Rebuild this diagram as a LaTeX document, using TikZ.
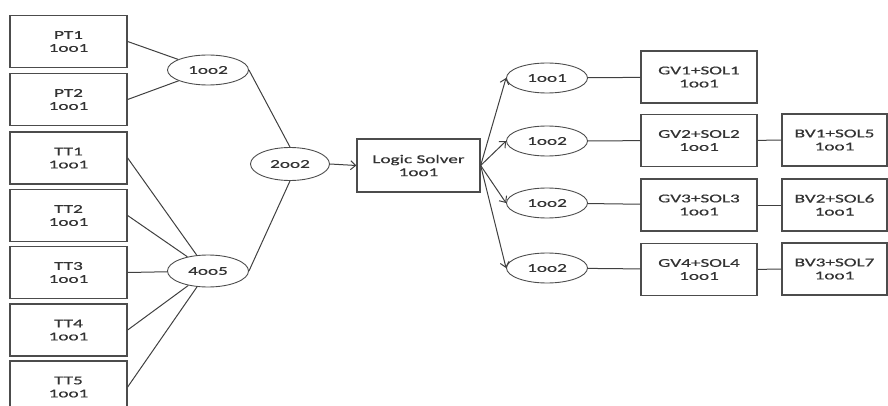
\documentclass[tikz,border=0pt]{standalone}
\usepackage{fontspec}
\setmainfont[FakeStretch=1.6,FakeBold=0.6]{Carlito}
\usetikzlibrary{shapes.geometric,arrows.meta}
\tikzset{>={Straight Barb[length=5pt,width=9pt]}}

\begin{document}
\begin{tikzpicture}[x=1pt,y=-1pt,
    box/.style={draw=black!70,line width=1.3pt,minimum width=117pt,minimum height=52pt,
      align=center,inner sep=0pt},
    vote/.style={ellipse,draw=black!70,line width=0.9pt,minimum width=81pt,minimum height=30pt,
      inner sep=0pt},
    link/.style={draw=black!75,line width=1pt},
    font=\fontsize{12}{13}\selectfont,text=black!80]
  \useasboundingbox (0,0) rectangle (888,406);
  % sensors
  \node[box] (pt1) at (68.5,41.5) {PT1\\1oo1};
  \node[box] (pt2) at (68.5,99.5) {PT2\\1oo1};
  \node[box] (tt1) at (68.5,158) {TT1\\1oo1};
  \node[box] (tt2) at (68.5,215.5) {TT2\\1oo1};
  \node[box] (tt3) at (68.5,272.5) {TT3\\1oo1};
  \node[box] (tt4) at (68.5,330) {TT4\\1oo1};
  \node[box] (tt5) at (68.5,387) {TT5\\1oo1};
  % voting
  \node[vote] (v12) at (208,70) {1oo2};
  \node[vote,minimum height=32pt] (v45) at (208,271) {4oo5};
  \node[vote,minimum width=79pt,minimum height=33pt] (v22) at (290,164) {2oo2};
  \node[box,minimum width=123pt,minimum height=53pt] (ls) at (418.5,165.5) {Logic Solver\\1oo1};
  % final elements
  \node[vote] (f1) at (547,78) {1oo1};
  \node[vote] (f2) at (547,141) {1oo2};
  \node[vote] (f3) at (547,203) {1oo2};
  \node[vote] (f4) at (547,268) {1oo2};
  \node[box,minimum width=116pt] (gv1) at (699,77) {GV1+SOL1\\1oo1};
  \node[box,minimum width=116pt] (gv2) at (699,140.5) {GV2+SOL2\\1oo1};
  \node[box,minimum width=116pt] (gv3) at (699,205) {GV3+SOL3\\1oo1};
  \node[box,minimum width=116pt] (gv4) at (699,269.5) {GV4+SOL4\\1oo1};
  \node[box,minimum width=105pt] (bv1) at (834.5,140) {BV1+SOL5\\1oo1};
  \node[box,minimum width=105pt] (bv2) at (834.5,205) {BV2+SOL6\\1oo1};
  \node[box,minimum width=105pt] (bv3) at (834.5,269) {BV3+SOL7\\1oo1};

  \draw[link] (pt1.east) -- (v12);
  \draw[link] (pt2.east) -- (v12);
  \foreach \s in {tt1,tt2,tt3,tt4,tt5}
    \draw[link] (\s.east) -- (v45);
  \draw[link] (v12.east) -- (v22.north);
  \draw[link] (v45.east) -- (v22.south);
  \draw[link,->] (v22.east) -- (ls.west);
  \foreach \f in {f1,f2,f3,f4}
    \draw[link,->] (ls.east) -- (\f.west);
  \draw[link] (f1) -- (gv1);
  \draw[link] (f2) -- (gv2);
  \draw[link] (f3) -- (gv3);
  \draw[link] (f4) -- (gv4);
  \draw[link] (gv2) -- (bv1);
  \draw[link] (gv3) -- (bv2);
  \draw[link] (gv4) -- (bv3);
\end{tikzpicture}
\end{document}
